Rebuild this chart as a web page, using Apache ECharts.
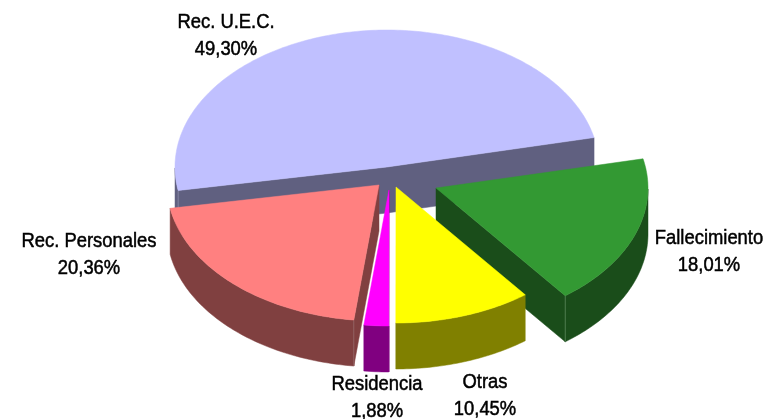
<!DOCTYPE html>
<html><head><meta charset="utf-8">
<style>html,body{margin:0;padding:0;background:#fff}#c{width:769px;height:419px}</style>
<script src="https://cdn.jsdelivr.net/npm/echarts@6/dist/echarts.min.js"></script>
</head><body><div id="c"></div>
<script>
// Data, clockwise from the first slice's trailing edge
const categories = ['Rec. U.E.C.', 'Fallecimiento', 'Otras', 'Residencia', 'Rec. Personales'];
const shares = [49.30, 18.01, 10.45, 1.88, 20.36];

// Presentation
const topColors = ['#C0C0FF', '#339933', '#FFFF00', '#FF00FF', '#FF8080'];
const sideColors = ['#606080', '#1A4D1A', '#808000', '#800080', '#804040'];
const edgeColors = ['#8080A0', '#4D7A4D', '#808000', '#800080', '#906060'];
const apexes = [[387, 167], [436, 188], [396, 187], [389, 190], [379, 185]];
const radiiY = [137, 136, 136, 136, 136];
const labelPos = [[226, 36], [709, 252], [485, 396], [377, 398], [89, 255]];
const RX = 212, DEPTH = 46, LINE = 27, START = 12.4;

function sliceAngles(i) {
  // math angles in degrees; the first slice runs counter-clockwise from START, the others clockwise
  const total = shares.reduce((a, b) => a + b, 0);
  const deg = s => s / total * 360;
  if (i === 0) return [START + deg(shares[0]), START];
  let a = START;
  for (let k = 1; k < i; k++) a -= deg(shares[k]);
  return [a, a - deg(shares[i])];
}
function arc(i, from, to, dy) {
  const c = apexes[i];
  const n = Math.max(2, Math.ceil(Math.abs(to - from)));
  const pts = [];
  for (let k = 0; k <= n; k++) {
    const t = (from + (to - from) * k / n) * Math.PI / 180;
    pts.push([c[0] + RX * Math.cos(t), c[1] - radiiY[i] * Math.sin(t) + dy]);
  }
  return pts;
}
function wall(a, b, fill) {
  return { type: 'polygon', shape: { points: [a, b, [b[0], b[1] + DEPTH], [a[0], a[1] + DEPTH]] },
           style: { fill: fill, stroke: fill, lineWidth: 0.5 } };
}
function renderItem(params, api) {
  const i = params.dataIndex;
  const value = api.value(0);
  const c = apexes[i];
  const [hi, lo] = sliceAngles(i);
  const children = [];
  const side = sideColors[i];
  const norm = a => ((a % 360) + 360) % 360;
  // outer wall: only the front half of the rim (angles between 180 and 360)
  const front = [];
  for (let d = lo; ; d = Math.min(d + 1, hi)) {
    if (norm(d) >= 180) front.push(d);
    if (d >= hi) break;
  }
  if (front.length > 1) {
    const f = front[0], l = front[front.length - 1];
    const upper = arc(i, f, l, 0), lower = arc(i, f, l, DEPTH).reverse();
    children.push({ type: 'polygon', shape: { points: upper.concat(lower) },
                    style: { fill: side, stroke: side, lineWidth: 0.5 } });
  }
  // radial walls facing the viewer
  [hi, lo].forEach((d, k) => {
    const outer = k === 0 ? d + 90 : d - 90;
    if (Math.sin(outer * Math.PI / 180) < 0) {
      const p = arc(i, d, d, 0)[0];
      children.push(wall(c, p, side));
      if (norm(d) >= 180) {
        children.push({ type: 'line', shape: { x1: p[0], y1: p[1], x2: p[0], y2: p[1] + DEPTH },
                        style: { stroke: edgeColors[i], lineWidth: 1 } });
      }
    }
  });
  // top face
  children.push({ type: 'polygon', shape: { points: [c].concat(arc(i, hi, lo, 0)) },
                  style: { fill: topColors[i], stroke: topColors[i], lineWidth: 0.5 } });
  // label
  children.push({ type: 'text', x: labelPos[i][0], y: labelPos[i][1], scaleX: 0.92,
    style: { text: categories[i] + '\n' + value.toFixed(2).replace('.', ',') + '%',
             fill: '#000', stroke: '#000', lineWidth: 0.5,
             font: '20px "Liberation Sans", Arial, sans-serif',
             lineHeight: LINE, align: 'center', verticalAlign: 'middle' } });
  return { type: 'group', children: children };
}
const chart = echarts.init(document.getElementById('c'), null, { renderer: 'canvas' });
chart.setOption({
  animation: false,
  backgroundColor: '#fff',
  series: [{ type: 'custom', coordinateSystem: 'none', renderItem: renderItem,
             data: shares.map((v, i) => ({ name: categories[i], value: [v] })) }]
});
</script></body></html>
